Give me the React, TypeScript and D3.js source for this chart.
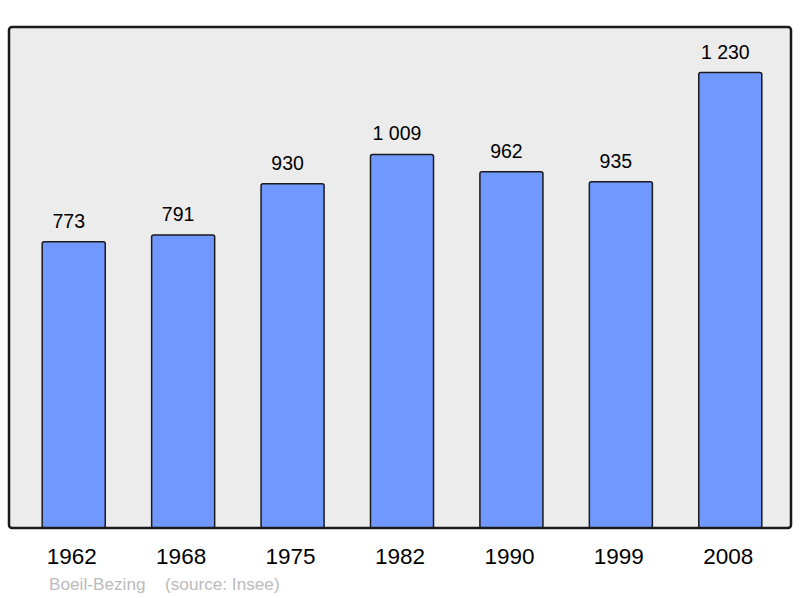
import * as d3 from "d3";

const years = ["1962", "1968", "1975", "1982", "1990", "1999", "2008"];
const population = [773, 791, 930, 1009, 962, 935, 1230];
const valueLabels = ["773", "791", "930", "1 009", "962", "935", "1 230"];
const townName = "Boeil-Bezing";
const sourceText = "(source: Insee)";

export default function App() {
  const width = 800;
  const height = 598;
  const panelLeft = 9;
  const panelTop = 27;
  const panelRight = 791;
  const panelBottom = 528;

  // band scale for the census years
  const x = d3
    .scaleBand<string>()
    .domain(years)
    .range([19, 785])
    .paddingInner(0.424)
    .paddingOuter(0.212);

  // linear value scale, with headroom above the tallest bar
  const y = d3
    .scaleLinear()
    .domain([0, d3.max(population)! * 1.1])
    .range([panelBottom, panelTop]);

  const font = "'Liberation Sans', Arial, sans-serif";

  return (
    <svg
      width={width}
      height={height}
      style={{ position: "absolute", left: 0, top: 0, background: "#fff" }}
    >
      {/* plot panel */}
      <rect
        x={panelLeft}
        y={panelTop}
        width={panelRight - panelLeft}
        height={panelBottom - panelTop}
        rx={3}
        fill="#ececec"
      />

      {/* bars */}
      <g fill="#7098ff" stroke="#1a1a1a" strokeWidth={1.5}>
        {years.map((yr, i) => (
          <rect
            key={yr}
            x={x(yr)!}
            y={y(population[i])}
            width={x.bandwidth()}
            height={panelBottom - y(population[i])}
            rx={2}
          />
        ))}
      </g>

      {/* panel border */}
      <rect
        x={panelLeft}
        y={panelTop}
        width={panelRight - panelLeft}
        height={panelBottom - panelTop}
        rx={3}
        fill="none"
        stroke="#1a1a1a"
        strokeWidth={2.5}
      />

      {/* value labels */}
      <g fontFamily={font} fontSize={19.5} fill="#000" textAnchor="middle">
        {years.map((yr, i) => (
          <text
            key={yr}
            x={x(yr)! + x.bandwidth() / 2 - 5}
            y={y(population[i]) - 14}
          >
            {valueLabels[i]}
          </text>
        ))}
      </g>

      {/* year labels */}
      <g fontFamily={font} fontSize={22.5} fill="#000" textAnchor="middle">
        {years.map(yr => (
          <text key={yr} x={x(yr)! + x.bandwidth() / 2 - 2} y={564}>
            {yr}
          </text>
        ))}
      </g>

      {/* footer */}
      <text x={49} y={590} fontFamily={font} fontSize={17.2} fill="#bbbbbb">
        {townName}
      </text>
      <text x={165} y={590} fontFamily={font} fontSize={17.2} fill="#bbbbbb">
        {sourceText}
      </text>
    </svg>
  );
}
